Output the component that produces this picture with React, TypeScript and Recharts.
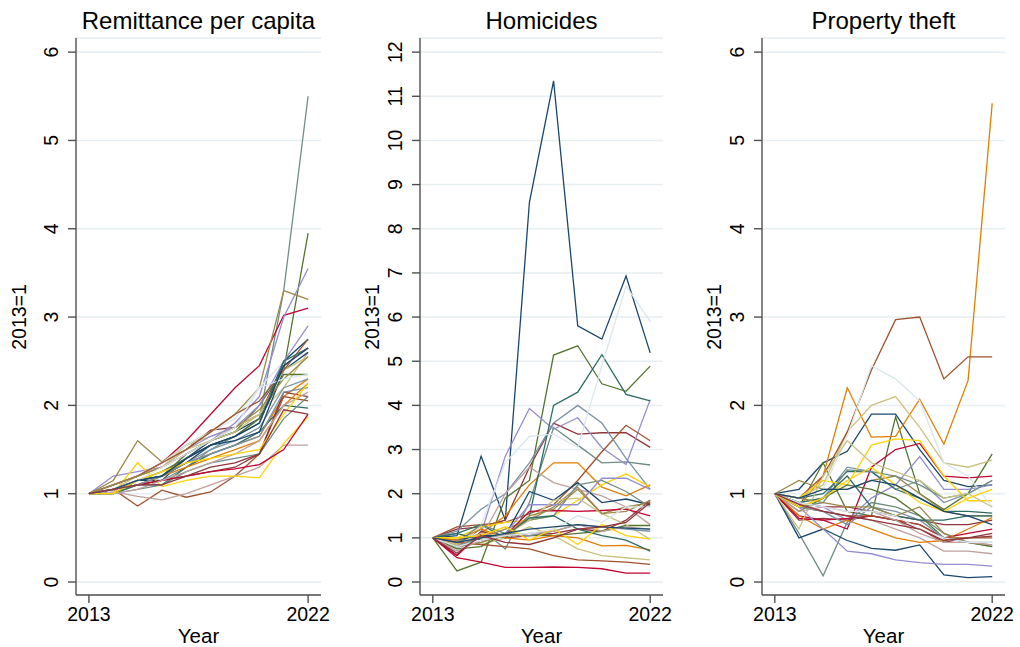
import React from 'react';
import { LineChart, Line, XAxis, YAxis, CartesianGrid } from 'recharts';

// Stata s2color line colours, cycled over the 32 states
const palette = [
  '#1a476f', '#90353b', '#55752f', '#e37e00', '#6e8e84',
  '#c10534', '#938dd2', '#cac27e', '#a0522d', '#7b92a8',
  '#2d6d66', '#9c8847', '#bfa19c', '#ffd200', '#d9e6eb',
];

const years = [2013, 2014, 2015, 2016, 2017, 2018, 2019, 2020, 2021, 2022];
const xTicks = [2013, 2022];
const ticks6 = [0, 1, 2, 3, 4, 5, 6];
const ticks12 = [0, 1, 2, 3, 4, 5, 6, 7, 8, 9, 10, 11, 12];

const remittance: number[][] = [
  [1, 1.05, 1.15, 1.15, 1.4, 1.6, 1.7, 1.85, 2.5, 2.75],
  [1, 1.1, 1.2, 1.35, 1.5, 1.72, 1.75, 1.9, 2.45, 2.65],
  [1, 1.0, 1.15, 1.2, 1.45, 1.6, 1.7, 2.0, 2.4, 3.95],
  [1, 1.05, 1.1, 1.2, 1.35, 1.45, 1.55, 1.65, 2.1, 2.3],
  [1, 1.0, 1.1, 1.15, 1.3, 1.5, 1.65, 1.85, 3.3, 5.5],
  [1, 1.1, 1.2, 1.35, 1.6, 1.9, 2.2, 2.45, 3.02, 3.1],
  [1, 1.2, 1.25, 1.3, 1.45, 1.6, 1.8, 2.1, 3.0, 3.55],
  [1, 1.1, 1.2, 1.3, 1.55, 1.65, 1.75, 1.9, 2.2, 2.6],
  [1, 1.05, 0.86, 1.04, 0.96, 1.02, 1.2, 1.45, 2.1, 2.05],
  [1, 1.05, 1.1, 1.2, 1.35, 1.5, 1.6, 1.75, 2.2, 2.3],
  [1, 1.0, 1.1, 1.1, 1.3, 1.45, 1.55, 1.7, 2.0, 1.97],
  [1, 1.15, 1.6, 1.36, 1.55, 1.7, 1.9, 2.2, 3.3, 3.2],
  [1, 1.02, 0.97, 0.93, 1.0, 1.1, 1.2, 1.3, 1.55, 1.55],
  [1, 1.0, 1.35, 1.08, 1.15, 1.2, 1.2, 1.18, 1.57, 1.87],
  [1, 1.1, 1.2, 1.35, 1.55, 1.7, 1.85, 2.2, 2.5, 2.6],
  [1, 1.05, 1.15, 1.2, 1.35, 1.55, 1.6, 1.7, 2.4, 2.6],
  [1, 1.05, 1.1, 1.15, 1.2, 1.25, 1.3, 1.45, 2.15, 2.1],
  [1, 1.05, 1.15, 1.25, 1.4, 1.55, 1.65, 1.85, 2.35, 2.35],
  [1, 1.05, 1.1, 1.2, 1.3, 1.4, 1.5, 1.6, 2.0, 2.25],
  [1, 1.0, 1.05, 1.1, 1.25, 1.35, 1.4, 1.45, 1.85, 2.1],
  [1, 1.05, 1.1, 1.15, 1.2, 1.25, 1.28, 1.33, 1.5, 1.9],
  [1, 1.1, 1.2, 1.3, 1.5, 1.65, 1.75, 2.0, 2.5, 2.9],
  [1, 1.05, 1.2, 1.3, 1.5, 1.6, 1.7, 1.9, 2.4, 2.55],
  [1, 1.1, 1.2, 1.35, 1.5, 1.7, 1.9, 2.05, 2.4, 2.75],
  [1, 1.05, 1.1, 1.2, 1.35, 1.45, 1.55, 1.65, 2.15, 2.2],
  [1, 1.05, 1.15, 1.2, 1.4, 1.55, 1.65, 1.8, 2.5, 2.65],
  [1, 1.1, 1.2, 1.3, 1.45, 1.6, 1.75, 1.95, 2.3, 2.55],
  [1, 1.0, 1.05, 1.15, 1.25, 1.35, 1.45, 1.6, 2.0, 2.15],
  [1, 1.0, 1.15, 1.25, 1.35, 1.4, 1.45, 1.5, 1.9, 2.25],
  [1, 1.05, 1.15, 1.3, 1.45, 1.6, 1.75, 2.2, 2.3, 2.35],
  [1, 1.05, 1.15, 1.2, 1.4, 1.55, 1.65, 1.8, 2.45, 2.65],
  [1, 1.05, 1.1, 1.1, 1.2, 1.3, 1.35, 1.45, 1.95, 1.9],
];

const homicides: number[][] = [
  [1, 1.05, 2.85, 1.4, 8.6, 11.35, 5.8, 5.5, 6.93, 5.19],
  [1, 1.2, 1.25, 1.4, 2.6, 3.6, 3.35, 3.38, 3.38, 3.05],
  [1, 0.25, 0.45, 1.9, 2.3, 5.14, 5.35, 4.49, 4.32, 4.89],
  [1, 0.9, 1.1, 1.5, 2.2, 2.7, 2.7, 2.15, 1.95, 2.2],
  [1, 0.85, 1.2, 0.75, 1.8, 3.5, 3.1, 2.7, 2.72, 2.65],
  [1, 0.55, 0.45, 0.33, 0.33, 0.34, 0.33, 0.3, 0.2, 0.2],
  [1, 0.8, 1.1, 2.85, 3.93, 3.46, 3.72, 3.04, 2.66, 4.13],
  [1, 0.9, 0.85, 1.0, 1.25, 1.05, 0.75, 0.6, 0.55, 0.5],
  [1, 1.25, 1.3, 1.35, 1.55, 1.75, 2.3, 2.95, 3.55, 3.2],
  [1, 1.15, 1.65, 2.0, 2.7, 3.6, 4.0, 3.6, 2.8, 2.1],
  [1, 1.1, 1.3, 1.0, 1.5, 4.0, 4.3, 5.15, 4.25, 4.1],
  [1, 0.85, 1.0, 1.2, 1.4, 1.7, 2.15, 1.55, 1.7, 1.8],
  [1, 0.75, 1.0, 2.0, 2.6, 2.25, 2.1, 1.95, 1.7, 1.3],
  [1, 1.0, 1.25, 1.35, 1.4, 1.5, 1.85, 2.2, 2.45, 2.15],
  [1, 0.7, 1.3, 2.7, 3.3, 3.35, 3.05, 4.9, 6.7, 5.9],
  [1, 0.95, 1.05, 1.05, 2.05, 1.85, 2.25, 1.8, 1.88, 1.75],
  [1, 0.6, 1.15, 1.0, 1.05, 1.1, 1.2, 1.15, 1.4, 1.85],
  [1, 0.75, 0.8, 1.1, 1.05, 1.05, 1.1, 1.15, 1.28, 1.28],
  [1, 0.95, 1.2, 1.0, 0.95, 1.05, 1.0, 0.82, 0.83, 0.73],
  [1, 0.9, 1.3, 1.1, 1.4, 1.5, 2.2, 2.3, 2.05, 1.7],
  [1, 0.6, 1.1, 1.05, 1.6, 1.62, 1.6, 1.62, 1.65, 1.5],
  [1, 0.8, 0.9, 1.1, 1.75, 1.75, 1.75, 2.35, 2.35, 2.1],
  [1, 0.85, 1.1, 1.05, 1.4, 1.85, 1.9, 1.55, 1.3, 0.97],
  [1, 0.9, 0.85, 0.8, 0.75, 0.6, 0.5, 0.48, 0.45, 0.4],
  [1, 0.8, 1.0, 1.05, 1.05, 1.15, 1.3, 1.25, 1.2, 1.15],
  [1, 1.1, 0.95, 1.05, 1.45, 1.5, 1.2, 1.05, 0.95, 0.7],
  [1, 0.8, 0.9, 1.05, 1.5, 1.65, 2.1, 1.55, 1.6, 1.85],
  [1, 0.7, 0.95, 1.05, 1.1, 1.15, 1.3, 1.15, 1.25, 1.2],
  [1, 1.0, 1.05, 1.25, 0.95, 1.2, 0.85, 1.3, 1.05, 0.97],
  [1, 0.8, 0.95, 1.05, 1.1, 1.2, 1.5, 1.35, 1.7, 1.7],
  [1, 0.9, 1.0, 1.1, 1.2, 1.25, 1.3, 1.25, 1.22, 1.2],
  [1, 0.65, 1.05, 0.9, 0.85, 1.0, 1.2, 1.25, 1.35, 1.8],
];

const theft: number[][] = [
  [1, 1.05, 1.35, 1.48, 1.9, 1.9, 1.5, 1.15, 1.08, 1.1],
  [1, 0.9, 0.85, 0.85, 0.8, 0.75, 0.7, 0.65, 0.65, 0.7],
  [1, 0.85, 1.35, 0.8, 0.75, 1.87, 1.0, 0.82, 1.0, 1.45],
  [1, 0.85, 1.2, 2.2, 1.64, 1.65, 2.07, 1.56, 2.28, 5.42],
  [1, 0.55, 0.07, 0.68, 0.9, 0.85, 0.75, 0.55, 0.45, 0.4],
  [1, 0.75, 0.7, 0.6, 1.3, 1.5, 1.57, 1.2, 1.18, 1.2],
  [1, 0.9, 0.85, 0.7, 0.95, 1.1, 1.42, 1.05, 1.05, 1.1],
  [1, 0.95, 1.1, 1.7, 2.0, 2.1, 1.75, 1.35, 1.3, 1.38],
  [1, 0.95, 1.2, 1.7, 2.4, 2.97, 3.0, 2.3, 2.55, 2.55],
  [1, 0.9, 0.95, 1.3, 1.25, 1.05, 1.15, 0.9, 1.0, 1.15],
  [1, 0.95, 1.0, 1.25, 1.25, 1.05, 0.95, 0.8, 0.8, 0.78],
  [1, 1.15, 1.05, 1.05, 1.15, 1.2, 1.0, 0.8, 0.75, 0.75],
  [1, 0.9, 0.8, 0.75, 0.7, 0.6, 0.5, 0.35, 0.35, 0.32],
  [1, 0.95, 1.15, 1.1, 1.55, 1.62, 1.6, 1.2, 0.92, 0.92],
  [1, 0.95, 1.05, 1.65, 2.45, 2.3, 2.05, 1.35, 1.2, 0.85],
  [1, 0.5, 0.6, 0.47, 0.38, 0.36, 0.42, 0.08, 0.05, 0.06],
  [1, 0.7, 0.72, 0.7, 0.75, 0.7, 0.6, 0.45, 0.5, 0.55],
  [1, 0.8, 0.95, 1.1, 1.05, 0.95, 0.75, 0.5, 0.45, 0.4],
  [1, 0.75, 0.6, 0.7, 0.6, 0.5, 0.45, 0.47, 0.6, 0.73],
  [1, 0.85, 0.9, 1.27, 1.25, 1.2, 1.1, 0.95, 1.0, 1.15],
  [1, 0.72, 0.7, 0.72, 0.75, 0.7, 0.65, 0.5, 0.55, 0.6],
  [1, 0.85, 0.6, 0.35, 0.32, 0.25, 0.22, 0.2, 0.2, 0.18],
  [1, 0.6, 1.2, 1.6, 1.35, 1.25, 1.15, 0.95, 1.0, 0.85],
  [1, 0.85, 0.8, 0.75, 0.75, 0.7, 0.65, 0.5, 0.5, 0.5],
  [1, 0.85, 0.8, 0.65, 0.85, 0.8, 0.7, 0.5, 0.45, 0.45],
  [1, 0.9, 0.95, 1.2, 0.85, 0.75, 0.7, 0.7, 0.75, 0.75],
  [1, 0.95, 0.9, 0.85, 0.85, 0.75, 0.85, 0.55, 0.45, 0.42],
  [1, 0.8, 0.85, 0.8, 0.8, 0.7, 0.55, 0.45, 0.45, 0.42],
  [1, 0.85, 0.95, 1.15, 1.3, 1.1, 0.9, 0.8, 0.95, 1.05],
  [1, 0.9, 0.85, 0.8, 0.8, 0.75, 0.6, 0.5, 0.45, 0.45],
  [1, 0.95, 1.05, 1.05, 1.15, 1.1, 0.95, 0.8, 0.75, 0.65],
  [1, 0.88, 0.8, 0.75, 0.7, 0.65, 0.6, 0.47, 0.5, 0.52],
];

const FONT = '"Liberation Sans", Arial, Helvetica, sans-serif';
const AXIS = '#505050';
const PLOT_TOP = 38;
const PLOT_BOTTOM = 595;

function toRows(series: number[][]) {
  return years.map((year, i) => {
    const row: Record<string, number> = { year };
    series.forEach((s, k) => {
      row['s' + k] = s[i];
    });
    return row;
  });
}

const YTick = (props: any) => {
  const { x, y, payload } = props;
  return (
    <text
      x={0}
      y={0}
      transform={`translate(${x},${y}) rotate(-90)`}
      textAnchor="middle"
      fontSize={19.5}
      fontFamily={FONT}
      fill="#000"
    >
      {payload.value}
    </text>
  );
};

type PanelProps = {
  title: string;
  series: number[][];
  left: number;
  yAxisWidth: number;
  rightMargin: number;
  yDomain: [number, number];
  yTicks: number[];
  yTitleX: number;
};

function Panel({ title, series, left, yAxisWidth, rightMargin, yDomain, yTicks, yTitleX }: PanelProps) {
  const rows = toRows(series);
  const plotLeft = yAxisWidth;
  const plotRight = 340 - rightMargin;
  return (
    <div style={{ position: 'absolute', left, top: 0, width: 340, height: 647 }}>
      <div
        style={{
          position: 'absolute',
          left: plotLeft - 40,
          width: plotRight - plotLeft + 80,
          top: 9,
          textAlign: 'center',
          fontSize: 24,
          lineHeight: '24px',
          fontFamily: FONT,
          color: '#000',
          whiteSpace: 'nowrap',
        }}
      >
        {title}
      </div>
      <div
        style={{
          position: 'absolute',
          left: yTitleX,
          top: (PLOT_TOP + PLOT_BOTTOM) / 2,
          width: 120,
          textAlign: 'center',
          fontSize: 19.5,
          lineHeight: '19.5px',
          fontFamily: FONT,
          color: '#000',
          transform: 'translate(-50%, -50%) rotate(-90deg)',
          whiteSpace: 'nowrap',
        }}
      >
        2013=1
      </div>
      <LineChart
        width={340}
        height={647}
        data={rows}
        margin={{ top: PLOT_TOP, right: rightMargin, bottom: 0, left: 0 }}
      >
        <CartesianGrid horizontal vertical={false} stroke="#e6eef1" strokeWidth={1.5} />
        <XAxis
          dataKey="year"
          type="number"
          domain={[2012.47, 2022.53]}
          ticks={xTicks}
          allowDataOverflow
          height={647 - PLOT_BOTTOM}
          tickSize={8}
          tickMargin={4}
          axisLine={{ stroke: AXIS, strokeWidth: 1.4 }}
          tickLine={{ stroke: AXIS, strokeWidth: 1.4 }}
          tick={{ fontSize: 19.5, fill: '#000', fontFamily: FONT }}
          label={{ value: 'Year', position: 'insideBottom', offset: 4, fontSize: 20.5, fill: '#000', fontFamily: FONT }}
        />
        <YAxis
          type="number"
          domain={yDomain}
          ticks={yTicks}
          allowDataOverflow
          interval={0}
          width={yAxisWidth}
          tickSize={8}
          tickMargin={10}
          axisLine={{ stroke: AXIS, strokeWidth: 1.4 }}
          tickLine={{ stroke: AXIS, strokeWidth: 1.4 }}
          tick={<YTick />}
        />
        {series.map((_, k) => (
          <Line
            key={k}
            type="linear"
            dataKey={'s' + k}
            stroke={palette[k % palette.length]}
            strokeWidth={1.3}
            dot={false}
            activeDot={false}
            isAnimationActive={false}
          />
        ))}
      </LineChart>
    </div>
  );
}

export default function App() {
  return (
    <div
      style={{
        position: 'absolute',
        left: 0,
        top: 0,
        width: 1020,
        height: 647,
        background: '#fff',
        overflow: 'hidden',
      }}
    >
      <Panel
        title="Remittance per capita"
        series={remittance}
        left={0}
        yAxisWidth={76}
        rightMargin={19}
        yDomain={[-0.147, 6.16]}
        yTicks={ticks6}
        yTitleX={20}
      />
      <Panel
        title="Homicides"
        series={homicides}
        left={340}
        yAxisWidth={80}
        rightMargin={17}
        yDomain={[-0.294, 12.32]}
        yTicks={ticks12}
        yTitleX={33}
      />
      <Panel
        title="Property theft"
        series={theft}
        left={680}
        yAxisWidth={82}
        rightMargin={15}
        yDomain={[-0.147, 6.16]}
        yTicks={ticks6}
        yTitleX={35}
      />
    </div>
  );
}
